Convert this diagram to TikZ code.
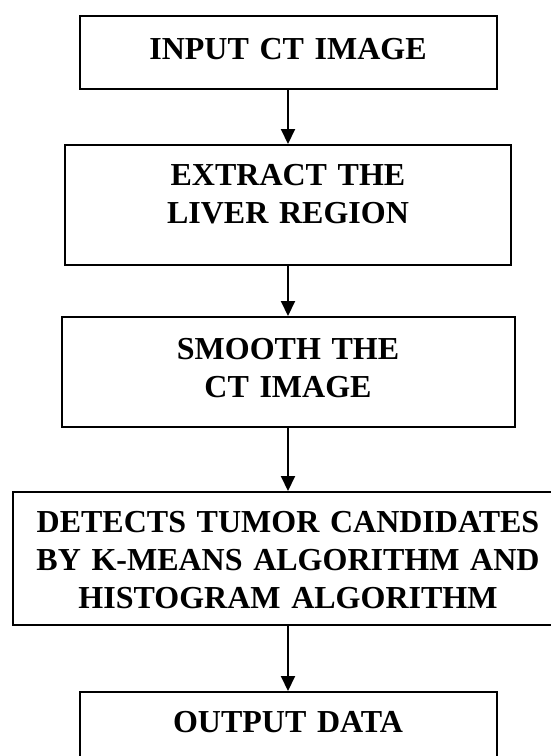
\documentclass[tikz,border=0pt]{standalone}
\usepackage{fontspec}
\setmainfont{Liberation Serif}
\usetikzlibrary{arrows.meta}

\begin{document}
\begin{tikzpicture}[x=1pt, y=-1pt,
    stage/.style={draw, line width=2pt, rectangle, anchor=north, inner sep=0pt,
        align=center, font=\fontsize{32pt}{38pt}\selectfont\bfseries},
    flow/.style={line width=2pt, -{Triangle[length=15pt, width=14pt]}}]
    % Page
    \path[use as bounding box, clip] (0,0) rectangle (551,756);

    % Boxes
    \node[stage, text width=417pt, text height=43pt, text depth=30pt] (input) at (288,15) {INPUT CT IMAGE};
    \node[stage, text width=446pt, text height=40pt, text depth=80pt] (extract) at (288,144) {EXTRACT THE\\LIVER REGION};
    \node[stage, text width=453pt, text height=42pt, text depth=68pt] (smooth) at (288,316) {SMOOTH THE\\CT IMAGE};
    \node[stage, text width=551pt, text height=40pt, text depth=93pt] (detect) at (288,491) {DETECTS TUMOR CANDIDATES\\BY K-MEANS ALGORITHM AND\\HISTOGRAM ALGORITHM};
    \node[stage, text width=417pt, text height=40pt, text depth=33pt] (output) at (288,691) {OUTPUT DATA};

    % Arrows
    \draw[flow] (input.south) -- (extract.north);
    \draw[flow] (extract.south) -- (smooth.north);
    \draw[flow] (smooth.south) -- (detect.north);
    \draw[flow] (detect.south) -- (output.north);
\end{tikzpicture}
\end{document}
